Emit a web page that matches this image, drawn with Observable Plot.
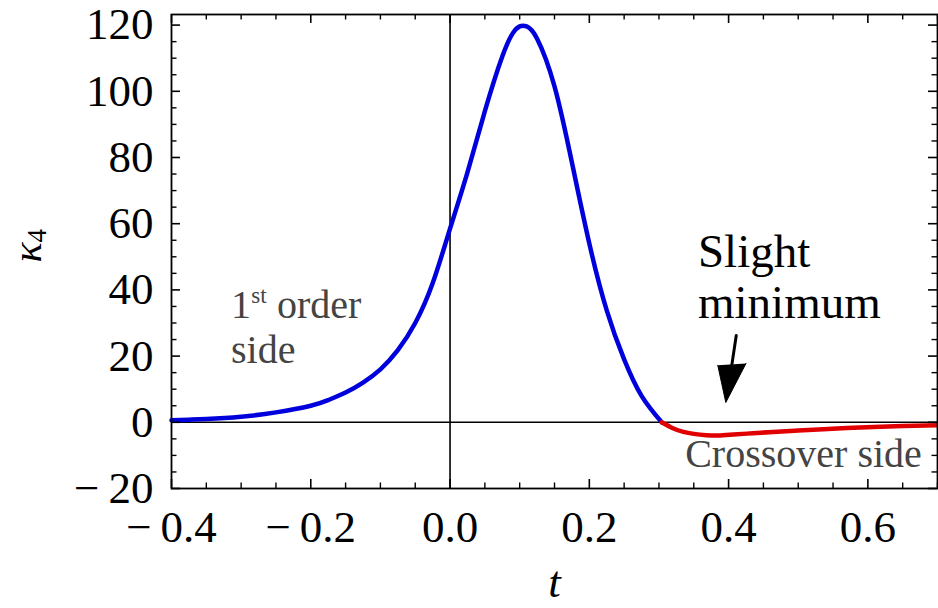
<!DOCTYPE html>
<html><head><meta charset="utf-8">
<script src="https://cdn.jsdelivr.net/npm/d3@7"></script>
<script src="https://cdn.jsdelivr.net/npm/@observablehq/plot@0.6"></script>
<style>
body{margin:0;background:#fff}
svg text, svg tspan { font-family: "Liberation Serif", "DejaVu Serif", serif !important; }
</style>
</head><body><div id="chart"></div>
<script>
// 1st-order side (blue) curve: t values and kappa_4 values
const blueT = [-0.4, -0.375, -0.35, -0.3, -0.25, -0.2, -0.175, -0.15, -0.125, -0.1, -0.075, -0.05, -0.025, 0, 0.025, 0.05, 0.075, 0.09, 0.1, 0.11, 0.125, 0.15, 0.175, 0.2, 0.225, 0.25, 0.275, 0.304];
const blueK = [0.6, 0.8, 1.0, 1.7, 3.0, 5.0, 6.7, 9.0, 12.0, 16.0, 21.8, 30.0, 42.0, 58.5, 75.5, 94, 110.5, 117.5, 119.6, 119.6, 115.9, 101.5, 78.5, 54, 33.8, 19, 8, 0];
// Crossover side (red) curve
const redT = [0.304, 0.32, 0.335, 0.35, 0.368, 0.385, 0.407, 0.435, 0.464, 0.5, 0.536, 0.57, 0.608, 0.65, 0.7];
const redK = [0, -1.8, -2.9, -3.5, -3.9, -4.0, -3.7, -3.3, -2.9, -2.5, -2.1, -1.75, -1.4, -1.1, -0.9];
// tick labels
const xTicks = [-0.4, -0.2, 0, 0.2, 0.4, 0.6];
const yTicks = [-20, 0, 20, 40, 60, 80, 100, 120];
const xLabel = "t";
const yLabelMain = "κ";
const yLabelSub = "4";
// annotations
const noteSlight = "Slight\nminimum";
const noteFirst = ["1", "st", "order", "side"];
const noteCross = "Crossover side";

const W = 938, H = 608, mL = 171, mR = 1, mT = 14, mB = 120;
const FW = W - mL - mR, FH = H - mT - mB;
const blue = blueT.map((t, i) => ({t, k: blueK[i]}));
const red = redT.map((t, i) => ({t, k: redK[i]}));
const xMinor = d3.range(-0.4, 0.7001, 0.05).map(v => Math.round(v * 100) / 100).filter(v => !xTicks.some(m => Math.abs(m - v) < 1e-6));
const yMinor = d3.range(-20, 123, 5).filter(v => !yTicks.includes(v));
const fmtX = d => (d < 0 ? "\u2212\u2009" : "") + Math.abs(d).toFixed(1);
const fmtY = d => (d < 0 ? "\u2212\u2009" : "") + Math.abs(d);
const gray = "#444";
const serif = "Liberation Serif";

const chart = Plot.plot({
  width: W, height: H, marginLeft: mL, marginRight: mR, marginTop: mT, marginBottom: mB,
  style: {fontFamily: serif, fontSize: "45px", background: "white", color: "black"},
  x: {domain: [-0.4, 0.7]},
  y: {domain: [-20, 123.2]},
  marks: [
    Plot.ruleY([0], {stroke: "black", strokeWidth: 1.6}),
    Plot.ruleX([0], {stroke: "black", strokeWidth: 1.6}),
    Plot.line(blue, {x: "t", y: "k", stroke: "#0000dd", strokeWidth: 4.5, curve: "natural"}),
    Plot.line(red, {x: "t", y: "k", stroke: "#e00000", strokeWidth: 4.5, curve: "natural"}),
    // ticks (inward, mirrored)
    Plot.ruleX(xTicks, {insetTop: FH - 9, stroke: "black", strokeWidth: 1.6}),
    Plot.ruleX(xTicks, {insetBottom: FH - 9, stroke: "black", strokeWidth: 1.6}),
    Plot.ruleX(xMinor, {insetTop: FH - 5.5, stroke: "black", strokeWidth: 1.4}),
    Plot.ruleX(xMinor, {insetBottom: FH - 5.5, stroke: "black", strokeWidth: 1.4}),
    Plot.ruleY(yTicks, {insetRight: FW - 9, stroke: "black", strokeWidth: 1.6}),
    Plot.ruleY(yTicks, {insetLeft: FW - 9, stroke: "black", strokeWidth: 1.6}),
    Plot.ruleY(yMinor, {insetRight: FW - 5.5, stroke: "black", strokeWidth: 1.4}),
    Plot.ruleY(yMinor, {insetLeft: FW - 5.5, stroke: "black", strokeWidth: 1.4}),
    Plot.frame({stroke: "black", strokeWidth: 1.8}),
    Plot.axisX({ticks: xTicks, tickSize: 0, tickPadding: 22, tickFormat: fmtX, label: null, fontSize: 45, fontFamily: serif}),
    Plot.axisY({ticks: yTicks, tickSize: 0, tickPadding: 18, tickFormat: fmtY, label: null, fontSize: 45, fontFamily: serif}),
    Plot.text([xLabel], {frameAnchor: "bottom", dy: 108, lineAnchor: "bottom", fontStyle: "italic", fontSize: 45, fontFamily: serif}),
    Plot.text([yLabelMain], {frameAnchor: "left", dx: -144, dy: 11, rotate: -90, fontStyle: "italic", fontSize: 42, fontFamily: serif}),
    Plot.text([yLabelSub], {frameAnchor: "left", dx: -134, dy: -9, rotate: -90, fontSize: 27, fontFamily: serif}),
    // annotations
    Plot.text([noteSlight], {x: 0.356, y: 31.4, textAnchor: "start", lineAnchor: "bottom", lineHeight: 1.1, fontSize: 47, fill: "black", fontFamily: serif}),
    Plot.line([{t: 0.411, k: 26.2}, {t: 0.403, k: 15}], {x: "t", y: "k", stroke: "black", strokeWidth: 3}),
    Plot.line([{t: 0.3845, k: 17.2}, {t: 0.396, k: 6.0}, {t: 0.425, k: 17.8}], {x: "t", y: "k", stroke: "black", strokeWidth: 1, fill: "black"}),
    Plot.text([noteFirst[0]], {x: -0.3145, y: 31.4, textAnchor: "start", lineAnchor: "bottom", fontSize: 40, fill: gray, fontFamily: serif}),
    Plot.text([noteFirst[1]], {x: -0.2855, y: 35.9, textAnchor: "start", lineAnchor: "bottom", fontSize: 23, fill: gray, fontFamily: serif}),
    Plot.text([noteFirst[2]], {x: -0.2485, y: 31.4, textAnchor: "start", lineAnchor: "bottom", fontSize: 40, fill: gray, fontFamily: serif}),
    Plot.text([noteFirst[3]], {x: -0.3145, y: 17.8, textAnchor: "start", lineAnchor: "bottom", fontSize: 40, fill: gray, fontFamily: serif}),
    Plot.text([noteCross], {x: 0.6775, y: -13.6, textAnchor: "end", lineAnchor: "bottom", fontSize: 40, fill: gray, fontFamily: serif})
  ]
});
document.getElementById("chart").appendChild(chart);
</script>
</body></html>
